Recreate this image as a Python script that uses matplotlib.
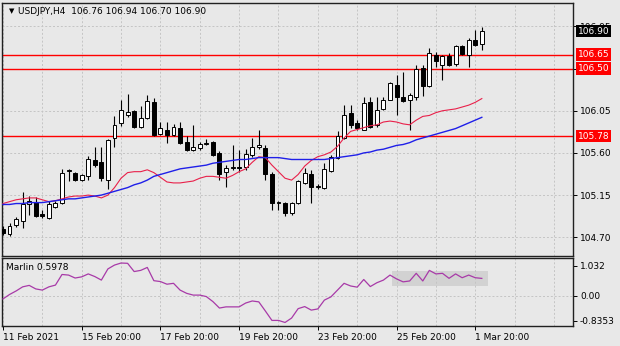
import numpy as np
import matplotlib
matplotlib.use('Agg')
import matplotlib.pyplot as plt
from matplotlib.patches import Rectangle

plt.rcParams['font.family'] = ['DejaVu Sans']

# H4 candles, USDJPY
opens = [104.79, 104.74, 104.83, 104.87, 105.06, 105.08, 104.95, 104.91, 105.02, 105.07,
         105.41, 105.39, 105.31, 105.35, 105.52, 105.50, 105.31, 105.76, 105.92, 106.01,
         106.05, 105.88, 105.97, 106.14, 105.80, 105.85, 105.79, 105.87, 105.72, 105.63,
         105.65, 105.70, 105.72, 105.60, 105.40, 105.44, 105.45, 105.45, 105.58, 105.66,
         105.65, 105.37, 105.07, 105.07, 104.96, 105.07, 105.28, 105.38, 105.24, 105.23,
         105.41, 105.55, 105.76, 106.03, 105.92, 105.85, 106.14, 105.90, 106.07, 106.17,
         106.33, 106.20, 106.17, 106.20, 106.51, 106.31, 106.65, 106.54, 106.63, 106.55,
         106.74, 106.65, 106.81, 106.76]
highs = [104.82, 104.85, 104.92, 105.18, 105.14, 105.13, 104.99, 105.09, 105.09, 105.43,
         105.43, 105.40, 105.37, 105.57, 105.66, 105.66, 105.75, 105.99, 106.17, 106.23,
         106.06, 106.10, 106.22, 106.19, 105.93, 105.93, 105.91, 105.93, 105.78, 105.90,
         105.72, 105.75, 105.73, 105.62, 105.47, 105.69, 105.63, 105.64, 105.76, 105.85,
         105.69, 105.40, 105.09, 105.08, 105.08, 105.31, 105.44, 105.42, 105.27, 105.49,
         105.58, 105.83, 106.11, 106.11, 105.95, 106.20, 106.20, 106.20, 106.20, 106.36,
         106.43, 106.46, 106.24, 106.54, 106.54, 106.72, 106.68, 106.65, 106.67, 106.75,
         106.75, 106.83, 106.91, 106.94]
lows = [104.72, 104.71, 104.81, 104.80, 104.94, 104.92, 104.91, 104.90, 105.01, 105.06,
        105.30, 105.30, 105.30, 105.31, 105.45, 105.30, 105.21, 105.66, 105.89, 105.98,
        105.87, 105.87, 105.96, 105.78, 105.79, 105.71, 105.78, 105.70, 105.62, 105.62,
        105.63, 105.68, 105.57, 105.31, 105.24, 105.42, 105.40, 105.42, 105.56, 105.64,
        105.31, 104.99, 104.99, 104.93, 104.94, 105.06, 105.27, 105.07, 105.22, 105.21,
        105.40, 105.53, 105.75, 105.87, 105.85, 105.84, 105.87, 105.88, 106.06, 106.16,
        106.01, 106.14, 105.85, 106.17, 106.21, 106.30, 106.52, 106.38, 106.53, 106.53,
        106.65, 106.52, 106.74, 106.70]
closes = [104.75, 104.82, 104.89, 105.05, 105.09, 104.93, 104.93, 105.06, 105.07, 105.39,
          105.42, 105.31, 105.36, 105.53, 105.47, 105.33, 105.74, 105.90, 106.06, 106.04,
          105.88, 105.97, 106.15, 105.79, 105.87, 105.79, 105.88, 105.71, 105.63, 105.66,
          105.70, 105.71, 105.58, 105.38, 105.44, 105.45, 105.44, 105.59, 105.66, 105.68,
          105.37, 105.07, 105.07, 104.96, 105.07, 105.30, 105.39, 105.24, 105.24, 105.43,
          105.56, 105.78, 106.01, 105.90, 105.87, 106.13, 105.88, 106.06, 106.16, 106.35,
          106.20, 106.15, 106.22, 106.50, 106.31, 106.67, 106.58, 106.63, 106.54, 106.74,
          106.66, 106.80, 106.75, 106.90]

# moving averages (red = fast, blue = slow)
ma_fast = [105.06, 105.08, 105.10, 105.11, 105.12, 105.12, 105.10, 105.08, 105.09, 105.11,
           105.13, 105.14, 105.14, 105.15, 105.14, 105.12, 105.15, 105.23, 105.33, 105.39,
           105.40, 105.40, 105.42, 105.39, 105.34, 105.29, 105.28, 105.28, 105.29, 105.30,
           105.33, 105.35, 105.35, 105.34, 105.33, 105.36, 105.40, 105.43, 105.50, 105.56,
           105.55, 105.47, 105.40, 105.33, 105.31, 105.37, 105.46, 105.52, 105.56, 105.58,
           105.61, 105.67, 105.76, 105.83, 105.85, 105.87, 105.89, 105.90, 105.93, 105.94,
           105.93, 105.91, 105.90, 105.95, 105.99, 106.00, 106.03, 106.05, 106.06, 106.07,
           106.09, 106.11, 106.14, 106.18]
ma_slow = [105.05, 105.05, 105.06, 105.06, 105.07, 105.07, 105.07, 105.08, 105.09, 105.10,
           105.11, 105.11, 105.12, 105.13, 105.14, 105.15, 105.17, 105.19, 105.21, 105.23,
           105.26, 105.28, 105.31, 105.35, 105.37, 105.39, 105.41, 105.43, 105.44, 105.45,
           105.46, 105.47, 105.49, 105.50, 105.51, 105.52, 105.53, 105.53, 105.54, 105.55,
           105.55, 105.55, 105.55, 105.54, 105.53, 105.53, 105.53, 105.53, 105.53, 105.53,
           105.54, 105.55, 105.56, 105.57, 105.58, 105.60, 105.61, 105.63, 105.64, 105.66,
           105.68, 105.69, 105.71, 105.74, 105.76, 105.78, 105.80, 105.82, 105.84, 105.86,
           105.89, 105.92, 105.95, 105.98]

marlin = [-0.10, 0.05, 0.17, 0.31, 0.36, 0.24, 0.20, 0.31, 0.37, 0.73,
          0.71, 0.61, 0.65, 0.75, 0.66, 0.54, 0.92, 1.05, 1.12, 1.11,
          0.83, 0.87, 0.97, 0.52, 0.49, 0.40, 0.43, 0.20, 0.09, 0.03,
          0.03, -0.02, -0.19, -0.41, -0.37, -0.37, -0.37, -0.24, -0.17, -0.20,
          -0.51, -0.83, -0.83, -0.90, -0.75, -0.43, -0.36, -0.48, -0.44, -0.14,
          -0.03, 0.20, 0.43, 0.34, 0.30, 0.56, 0.32, 0.45, 0.54, 0.71,
          0.58, 0.48, 0.51, 0.77, 0.51, 0.87, 0.75, 0.77, 0.60, 0.75,
          0.62, 0.71, 0.62, 0.5978]

levels = [106.65, 106.50, 105.78]
price_ticks = [106.95, 106.50, 106.05, 105.60, 105.15, 104.70]
price_labels = ['106.95', '', '106.05', '105.60', '105.15', '104.70']  # 106.50 sits under the red box
time_ticks = [0, 12, 24, 36, 48, 60, 72]
time_labels = ['11 Feb 2021', '15 Feb 20:00', '17 Feb 20:00', '19 Feb 20:00',
               '23 Feb 20:00', '25 Feb 20:00', '1 Mar 20:00']
marlin_ticks = [1.032, 0.0, -0.8353]
marlin_labels = ['1.032', '0.00', '-0.8353']

bg = '#e8e8e8'
grid_c = '#c4c4c4'
fs = 6.5

fig = plt.figure(figsize=(6.2, 3.46), dpi=100, facecolor=bg)
ax = fig.add_axes([0.0032, 0.2601, 0.921, 0.7312], facecolor=bg)
ax2 = fig.add_axes([0.0032, 0.0578, 0.921, 0.1965], facecolor=bg)

x = np.arange(len(opens))
o = np.array(opens); c = np.array(closes)
h = np.array(highs); l = np.array(lows)
up = c >= o

for a in (ax, ax2):
    a.set_xlim(-0.15, 86.9)
    a.set_xticks(range(0, 87, 6), minor=True)
    a.grid(True, which='both', axis='x', color=grid_c, linestyle=(0, (2, 2)), linewidth=0.7)
    for s in a.spines.values():
        s.set_color('#202020')
        s.set_linewidth(1.0)
    a.yaxis.tick_right()
    a.tick_params(axis='y', which='both', direction='out', length=3, width=0.7,
                  labelsize=fs, pad=2, colors='black')
    a.tick_params(axis='x', which='minor', length=0)

ax.grid(True, axis='y', color=grid_c, linestyle=(0, (2, 2)), linewidth=0.7)
ax.set_ylim(104.50, 107.20)
ax.set_yticks(price_ticks)
ax.set_yticklabels(price_labels)
ax.set_xticks(time_ticks)
ax.tick_params(axis='x', which='major', length=0, labelbottom=False)

for lv in levels:
    ax.axhline(lv, color='#ff0000', linewidth=1.0, zorder=2)

ax.vlines(x, l, h, color='black', linewidth=0.8, zorder=3)
body_h = np.maximum(np.abs(c - o), 0.004)
ax.bar(x, body_h, bottom=np.minimum(o, c), width=0.6,
       color=np.where(up, 'white', 'black'), edgecolor='black', linewidth=0.7, zorder=4)

ax.plot(x, ma_fast, color='#e8204a', linewidth=0.8, zorder=5)
ax.plot(x, ma_slow, color='#1f1fe8', linewidth=1.0, zorder=5)

ax.text(0.012, 0.968, '\u25bc', transform=ax.transAxes, fontsize=5, va='center', ha='left')
ax.text(0.028, 0.968, 'USDJPY,H4  106.76 106.94 106.70 106.90', transform=ax.transAxes,
        fontsize=fs, va='center', ha='left')

ytr = ax.get_yaxis_transform()
for lv in levels:
    ax.text(1.008, lv, f'{lv:.2f}', transform=ytr, fontsize=fs, color='white',
            va='center', ha='left', clip_on=False, zorder=10,
            bbox=dict(boxstyle='square,pad=0.2', fc='#ff0000', ec='none'))
ax.text(1.008, closes[-1], f'{closes[-1]:.2f}', transform=ytr, fontsize=fs, color='white',
        va='center', ha='left', clip_on=False, zorder=10,
        bbox=dict(boxstyle='square,pad=0.2', fc='black', ec='none'))

# Marlin panel
ax2.set_ylim(-1.02, 1.29)
ax2.set_yticks(marlin_ticks)
ax2.set_yticklabels(marlin_labels)
ax2.axhline(0, color=grid_c, linestyle=(0, (2, 2)), linewidth=0.7, zorder=0)
ax2.add_patch(Rectangle((59.3, 0.35), 14.7, 0.51, facecolor='#d2d2d2', edgecolor='none', zorder=1))
ax2.plot(x, marlin, color='#a83aa8', linewidth=0.9, zorder=3)
ax2.text(0.007, 0.86, 'Marlin 0.5978', transform=ax2.transAxes, fontsize=fs,
         va='center', ha='left')
ax2.set_xticks(time_ticks)
ax2.set_xticklabels(time_labels, ha='left', fontsize=fs)
ax2.tick_params(axis='x', which='major', direction='out', length=3, width=0.7, pad=2)

fig.savefig('out.png', dpi=100, facecolor=bg)
